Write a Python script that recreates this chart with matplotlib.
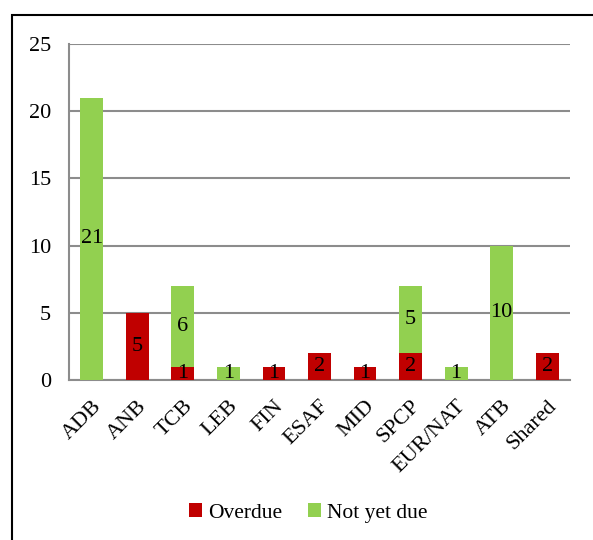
import matplotlib
matplotlib.use("Agg")
import matplotlib.pyplot as plt
from matplotlib.patches import Rectangle
import numpy as np

plt.rcParams['font.family'] = ['Liberation Serif', 'DejaVu Serif']

categories = ["ADB", "ANB", "TCB", "LEB", "FIN", "ESAF", "MID", "SPCP", "EUR/NAT", "ATB", "Shared"]
overdue = [0, 5, 1, 0, 1, 2, 1, 2, 0, 0, 2]
not_yet_due = [21, 0, 6, 1, 0, 0, 0, 5, 1, 10, 0]

red = "#C00000"
green = "#92D050"

fig = plt.figure(figsize=(5.93, 5.40), dpi=100)
ax = fig.add_axes([69/593, 1-380/540, (570-69)/593, (380-44)/540])

x = np.arange(len(categories))
w = 0.5
b1 = ax.bar(x, overdue, w, color=red, label="Overdue", zorder=3)
b2 = ax.bar(x, not_yet_due, w, bottom=overdue, color=green, label="Not yet due", zorder=3)

# value labels in the middle of each non-empty segment
for i in range(len(categories)):
    if overdue[i] > 0:
        ax.text(x[i], overdue[i]/2, str(overdue[i]), ha='center', va='center', fontsize=16, zorder=4)
    if not_yet_due[i] > 0:
        ax.text(x[i], overdue[i] + not_yet_due[i]/2, str(not_yet_due[i]), ha='center', va='center', fontsize=16, zorder=4)

ax.set_xlim(-0.5, len(categories) - 0.5)
ax.set_ylim(0, 25)
ax.set_yticks([0, 5, 10, 15, 20, 25])
ax.yaxis.grid(True, color='#8c8c8c', linewidth=1.5, zorder=0)
ax.set_xticks(x)
ax.set_xticklabels(categories, rotation=45, ha='right', rotation_mode='anchor', fontsize=16)
ax.tick_params(axis='both', length=0, labelsize=16)
ax.tick_params(axis='y', pad=13)
ax.tick_params(axis='x', pad=12)
for s in ['top', 'right']:
    ax.spines[s].set_visible(False)
for s in ['left', 'bottom']:
    ax.spines[s].set_color('#8c8c8c')
    ax.spines[s].set_linewidth(1.5)

fig.legend(handles=[b1, b2], loc='center', bbox_to_anchor=(0.52, 1-513/540), ncol=2,
           frameon=False, fontsize=15.5, handlelength=0.6, handleheight=0.6,
           handletextpad=0.3, columnspacing=1.2)

# outer frame, only left and top edges visible
fig.patches.append(Rectangle((12/593, -0.2), 1.2, 1.2 - 15/540, transform=fig.transFigure,
                             fill=False, edgecolor='black', linewidth=1.5))

fig.savefig("out.png", dpi=100)
